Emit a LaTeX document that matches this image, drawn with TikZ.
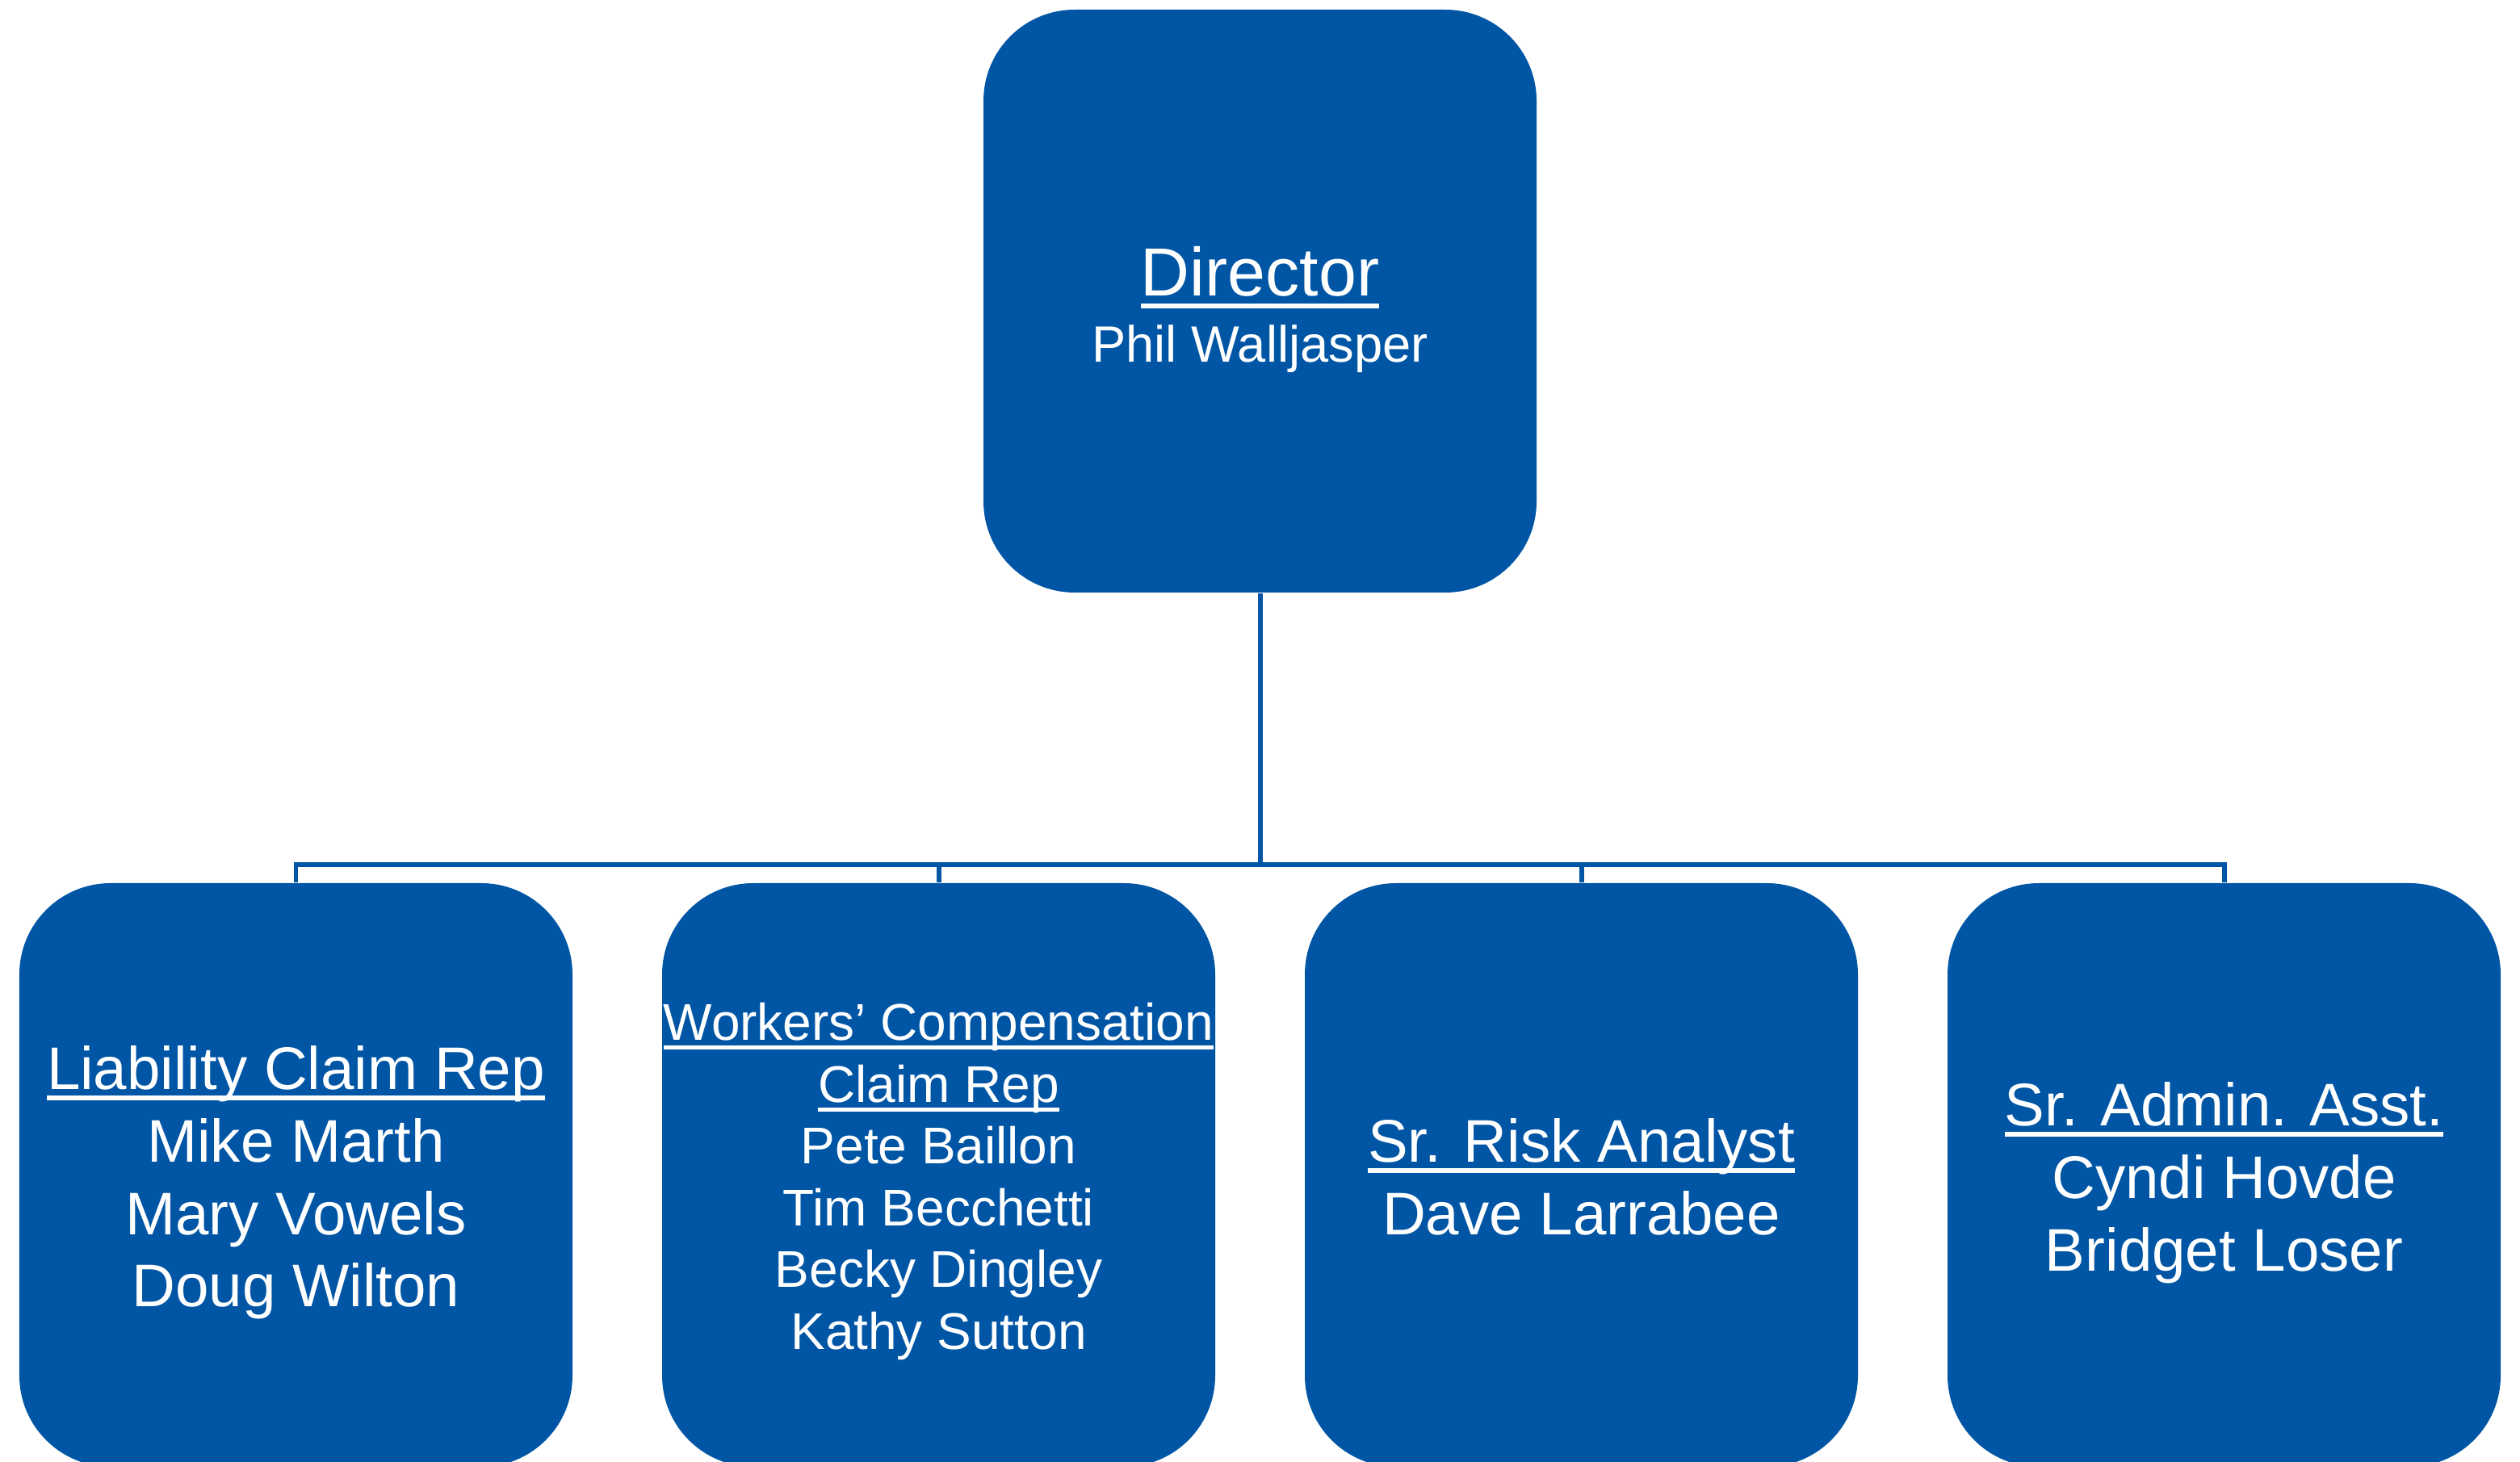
\documentclass[tikz,border=0pt]{standalone}
\usepackage{fontspec}
\setmainfont{Liberation Sans}
\usepackage{tikz}
\usetikzlibrary{positioning}
\definecolor{orgblue}{RGB}{0,85,165}
% underlined heading, rule at a fixed depth like an office chart
\newcommand{\ulhead}[1]{\setbox0\hbox{#1}\rlap{\rule[-0.185em]{\wd0}{0.075em}}\box0}
\newcommand{\topstrut}{\rule[-0.212em]{0pt}{1.19em}}
\newcommand{\botstrut}{\rule[-0.212em]{0pt}{1.117em}}
\tikzstyle{chiefbox} = [rectangle, rounded corners=1.13cm, minimum width=6.85cm, minimum height=7.22cm, inner sep=0pt, align=center, text=white, fill=orgblue, font=\fontsize{18}{23.3}\selectfont]
\tikzstyle{staffbox} = [chiefbox, minimum height=7.23cm, font=\fontsize{21.2}{25.6}\selectfont]
\tikzstyle{link} = [draw=orgblue, line width=1.7pt]
\begin{document}
\begin{tikzpicture}[node distance=7.96cm]
\useasboundingbox (0,0) rectangle (31.21,18.10);

\node (director) [chiefbox] at (15.605,14.37)
	{{\fontsize{24}{23.3}\selectfont\topstrut\ulhead{Director}}\\ Phil Walljasper\botstrut};

\node (liability) [staffbox] at (3.665,3.545)
	{\topstrut\ulhead{Liability Claim Rep}\\ Mike Marth\\ Mary Vowels\\ Doug Wilton\botstrut};
\node (workcomp) [staffbox, right of=liability, font=\fontsize{18.2}{21.8}\selectfont]
	{\topstrut\ulhead{Workers’ Compensation}\\ \ulhead{Claim Rep}\\ Pete Baillon\\ Tim Becchetti\\ Becky Dingley\\ Kathy Sutton\botstrut};
\node (risk) [staffbox, right of=workcomp]
	{\topstrut\ulhead{Sr. Risk Analyst}\\ Dave Larrabee\botstrut};
\node (admin) [staffbox, right of=risk]
	{\topstrut\ulhead{Sr. Admin. Asst.}\\ Cyndi Hovde\\ Bridget Loser\botstrut};

\coordinate (bus) at (15.605,7.39);

\draw [link] (director.south) -- (bus);
\draw [link] (bus) -| (liability.north);
\draw [link] (bus) -| (workcomp.north);
\draw [link] (bus) -| (risk.north);
\draw [link] (bus) -| (admin.north);

\end{tikzpicture}
\end{document}
